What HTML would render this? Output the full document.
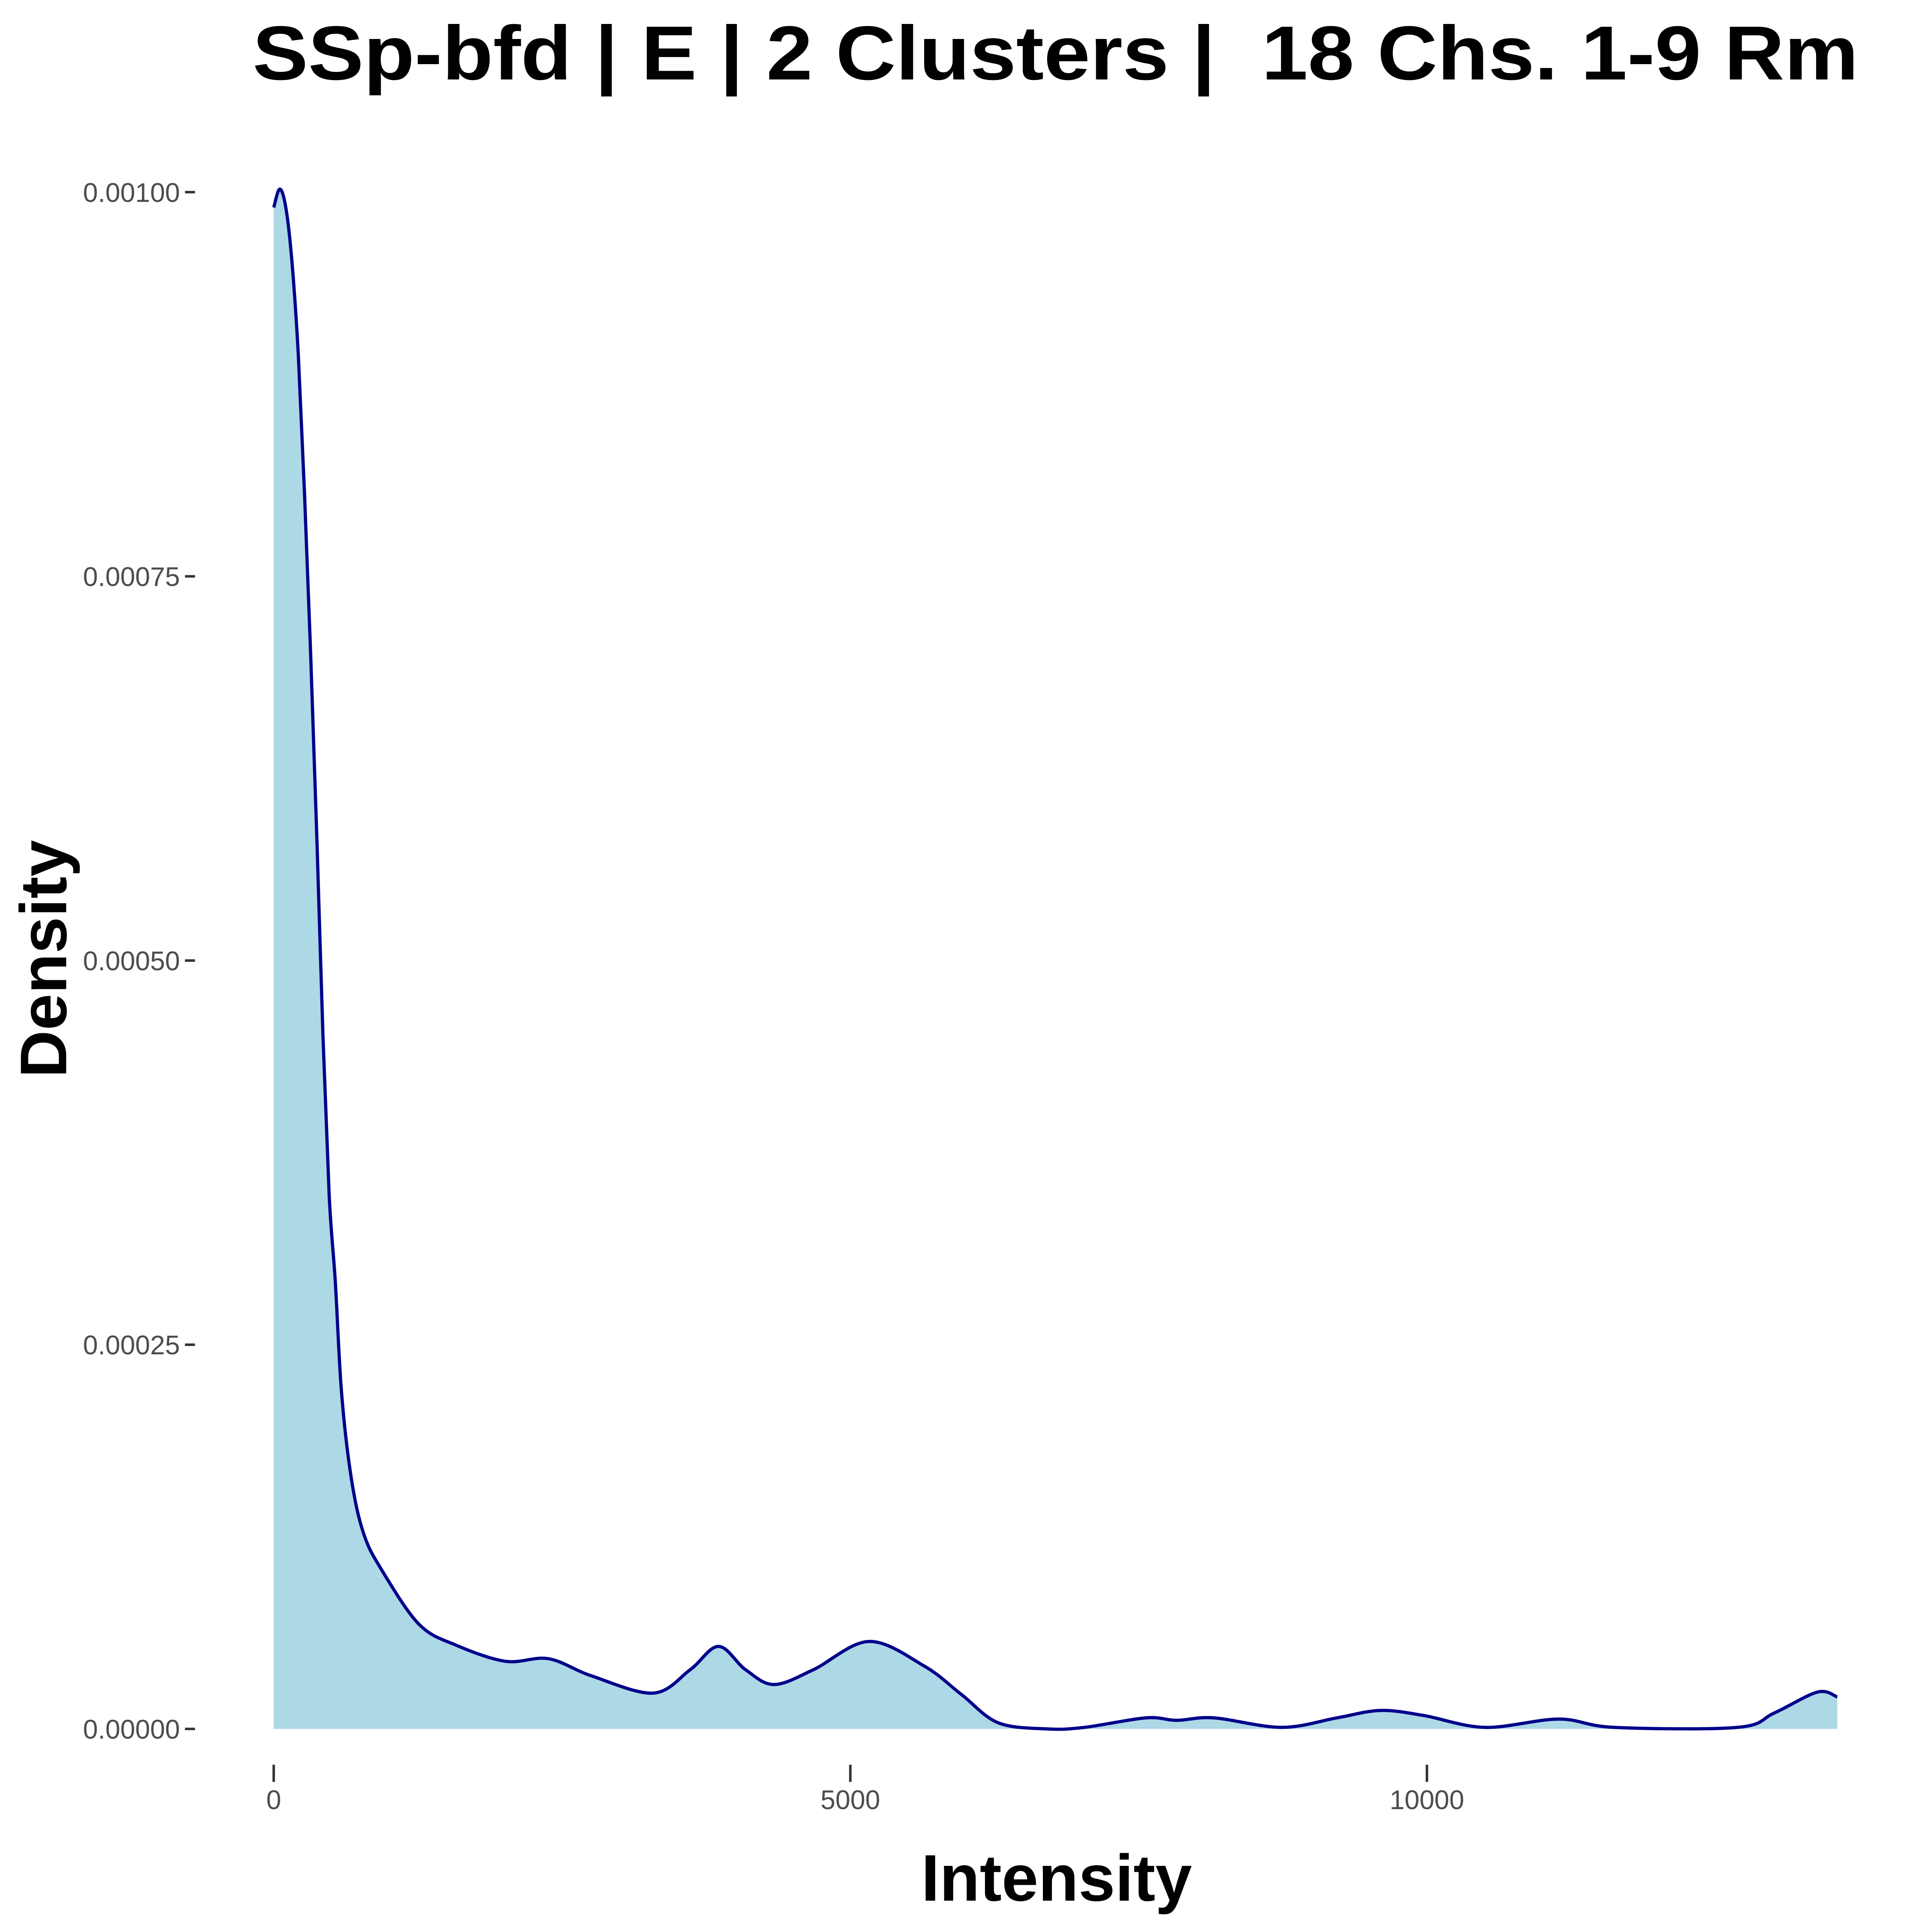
<!DOCTYPE html>
<html><head><meta charset="utf-8"><style>
html,body{margin:0;padding:0;background:#fff;overflow:hidden;}
svg{display:block;}
</style></head><body>
<svg id="chart" width="5400" height="5400" viewBox="0 0 5400 5400" xmlns="http://www.w3.org/2000/svg">
<rect width="5400" height="5400" fill="#fff"/>
<g transform="scale(0.926)">
<text x="2950" y="222" text-anchor="middle" font-family="Liberation Sans, sans-serif" font-weight="bold" font-size="214" fill="#000" textLength="4488" lengthAdjust="spacingAndGlyphs" xml:space="preserve">SSp-bfd | E | 2 Clusters |  18 Chs. 1-9 Rm</text>
<g id="plot"></g>
<g id="yaxis"></g>
<g id="xaxis"></g>
<text transform="translate(185,2680) rotate(-90)" text-anchor="middle" font-family="Liberation Sans, sans-serif" font-weight="bold" font-size="184" fill="#000">Density</text>
<text x="2953" y="5312" text-anchor="middle" font-family="Liberation Sans, sans-serif" font-weight="bold" font-size="184" fill="#000">Intensity</text>
</g>
</svg>
<script>
const xs = [0,53,107,160,214,267,320,374,427,481,534,588,673,780,940,1261,1581,2009,2383,2756,3291,3611,3857,4092,4338,4679,5160,5641,5962,6282,6709,7030,7564,7831,8152,8739,9220,9594,9968,10502,11143,11624,12692,13013,13387,13558];
const densities = [0.00099,0.001002,0.000989,0.000953,0.000893,0.000804,0.0007,0.00058,0.000451,0.000347,0.000291,0.000219,0.000163,0.000127,0.000103,0.000068,0.0000545,0.000044,0.0000457,0.0000345,0.0000233,0.0000385,0.0000537,0.0000385,0.0000289,0.0000385,0.0000569,0.0000409,0.0000225,0.000004,0,0.000001,0.0000072,0.0000056,0.0000072,0.000001,0.0000072,0.000012,0.0000088,0.000001,0.0000064,0.000001,0.000001,0.0000104,0.000024,0.0000208];
const yTicks = [0,0.00025,0.0005,0.00075,0.001];
const yTickLabels = ["0.00000","0.00025","0.00050","0.00075","0.00100"];
const xTicks = [0,5000,10000];
const xTickLabels = ["0","5000","10000"];

const NS = "http://www.w3.org/2000/svg";
const X0 = 765, X1 = 3988;
const Y0 = 4832, Y1 = 537;
function sx(v){ return X0 + (v/10000)*(X1-X0); }
function sy(v){ return Y0 + (v/0.001)*(Y1-Y0); }
function mk(tag, attrs, parent){ const e=document.createElementNS(NS,tag); for(const k in attrs) e.setAttribute(k,attrs[k]); parent.appendChild(e); return e; }

const pts = xs.map((x,i)=>[sx(x), sy(densities[i])]);
let d = "M"+pts[0][0]+","+pts[0][1];
for(let i=0;i<pts.length-1;i++){
  const p0=pts[Math.max(0,i-1)], p1=pts[i], p2=pts[i+1], p3=pts[Math.min(pts.length-1,i+2)];
  const c1x=p1[0]+(p2[0]-p0[0])/6, c1y=p1[1]+(p2[1]-p0[1])/6;
  const c2x=p2[0]-(p3[0]-p1[0])/6, c2y=p2[1]-(p3[1]-p1[1])/6;
  d += " C"+c1x+","+c1y+" "+c2x+","+c2y+" "+p2[0]+","+p2[1];
}
const plot = document.getElementById("plot");
const area = mk("path",{d: d+" L"+pts[pts.length-1][0]+","+sy(0)+" L"+pts[0][0]+","+sy(0)+" Z", fill:"#ADD8E6", stroke:"none"}, plot);


const line = mk("path",{d: d, fill:"none", stroke:"#00008B", "stroke-width":"9", "stroke-linejoin":"round"}, plot);



const ya = document.getElementById("yaxis");
yTicks.forEach((t,i)=>{
  const y = sy(t);
  const tk = mk("line",{x1:517,x2:545,y1:y,y2:y,stroke:"#333","stroke-width":"7"}, ya);
  
  
  const lb = mk("text",{x:503,y:y+27,"text-anchor":"end","font-family":"Liberation Sans, sans-serif","font-size":"75",fill:"#4d4d4d"}, ya);
  lb.textContent = yTickLabels[i];
  
  
});
const xa = document.getElementById("xaxis");
xTicks.forEach((t,i)=>{
  const x = sx(t);
  const tk = mk("line",{x1:x,x2:x,y1:4932,y2:4980,stroke:"#333","stroke-width":"7"}, xa);
  
  
  const lb = mk("text",{x:x,y:5056,"text-anchor":"middle","font-family":"Liberation Sans, sans-serif","font-size":"75",fill:"#4d4d4d"}, xa);
  lb.textContent = xTickLabels[i];
  
  
});
</script>
</body></html>
